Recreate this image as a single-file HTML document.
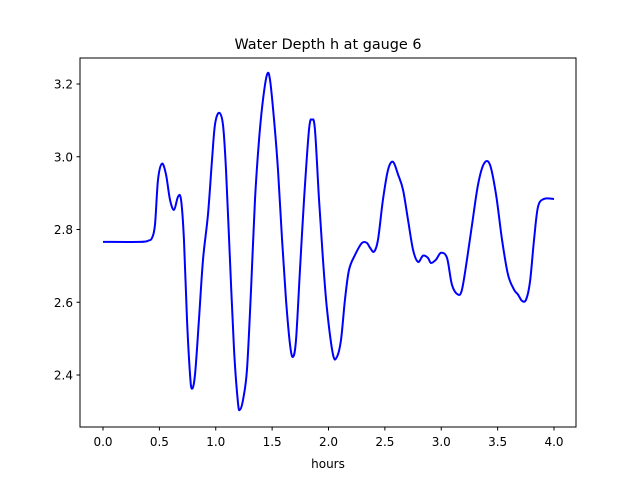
<!DOCTYPE html>
<html><head><meta charset="utf-8"><style>
body{margin:0;background:#fff;}
svg text{font-family:"DejaVu Sans","Liberation Sans",sans-serif;fill:#000;}
</style></head><body>
<svg id="chart" width="640" height="480" viewBox="0 0 640 480">
<rect width="640" height="480" fill="#fff"/>
<text x="328" y="49" font-size="14.4" text-anchor="middle">Water Depth h at gauge 6</text>
<g id="xt"></g>
<g id="yt"></g>
<path id="line" fill="none" stroke="#0000ff" stroke-width="2" stroke-linejoin="round"/>
<rect x="80" y="58" width="496" height="369" fill="none" stroke="#000" stroke-width="1"/>
<text x="328" y="468" font-size="12" text-anchor="middle">hours</text>
</svg>
<script>
const xTicks=[0,0.5,1,1.5,2,2.5,3,3.5,4];
const xTickLabels=["0.0","0.5","1.0","1.5","2.0","2.5","3.0","3.5","4.0"];
const yTicks=[2.4,2.6,2.8,3.0,3.2];
const yTickLabels=["2.4","2.6","2.8","3.0","3.2"];
const hours=[0,0.328,0.399,0.435,0.461,0.488,0.523,0.559,0.594,0.630,0.665,0.692,0.718,0.745,0.772,0.789,0.816,0.851,0.887,0.931,0.967,0.993,1.029,1.064,1.091,1.126,1.162,1.197,1.215,1.242,1.277,1.313,1.348,1.384,1.419,1.455,1.481,1.517,1.552,1.588,1.623,1.659,1.685,1.712,1.747,1.783,1.827,1.854,1.880,1.916,1.951,1.987,2.040,2.075,2.111,2.146,2.182,2.235,2.297,2.341,2.368,2.404,2.439,2.483,2.528,2.572,2.617,2.661,2.705,2.750,2.794,2.838,2.882,2.909,2.953,2.998,3.051,3.095,3.149,3.184,3.228,3.273,3.326,3.379,3.432,3.486,3.539,3.592,3.645,3.681,3.716,3.752,3.787,3.823,3.858,3.911,4.000];
const depth=[2.766,2.766,2.769,2.777,2.813,2.937,2.981,2.951,2.882,2.854,2.890,2.882,2.772,2.552,2.401,2.362,2.401,2.552,2.717,2.841,2.992,3.088,3.121,3.088,2.964,2.717,2.470,2.324,2.305,2.332,2.415,2.635,2.882,3.047,3.157,3.226,3.212,3.102,2.964,2.772,2.607,2.483,2.450,2.497,2.689,2.882,3.074,3.102,3.074,2.882,2.717,2.580,2.456,2.450,2.497,2.607,2.689,2.730,2.763,2.763,2.750,2.739,2.772,2.882,2.964,2.986,2.951,2.909,2.827,2.744,2.711,2.728,2.722,2.708,2.717,2.736,2.722,2.648,2.621,2.635,2.717,2.813,2.923,2.981,2.978,2.896,2.772,2.676,2.635,2.621,2.604,2.607,2.656,2.772,2.862,2.884,2.884];
const NS="http://www.w3.org/2000/svg";
const X=v=>103+v*112.75;
const Y=v=>84+(3.2-v)*363.75;
const xt=document.getElementById('xt'),yt=document.getElementById('yt');
xTicks.forEach((t,i)=>{
 const l=document.createElementNS(NS,'line');
 
 
 l.setAttribute('x1',X(t));l.setAttribute('x2',X(t));l.setAttribute('y1',427);l.setAttribute('y2',430.5);l.setAttribute('stroke','#000');
 xt.appendChild(l);
 const tx=document.createElementNS(NS,'text');
 
 
 tx.setAttribute('x',X(t));tx.setAttribute('y',446);tx.setAttribute('font-size','12');tx.setAttribute('text-anchor','middle');
 tx.textContent=xTickLabels[i];xt.appendChild(tx);
});
yTicks.forEach((t,i)=>{
 const l=document.createElementNS(NS,'line');
 
 
 l.setAttribute('x1',76.5);l.setAttribute('x2',80);l.setAttribute('y1',Y(t));l.setAttribute('y2',Y(t));l.setAttribute('stroke','#000');
 yt.appendChild(l);
 const tx=document.createElementNS(NS,'text');
 
 
 tx.setAttribute('x',73);tx.setAttribute('y',Y(t)+4.5);tx.setAttribute('font-size','12');tx.setAttribute('text-anchor','end');
 tx.textContent=yTickLabels[i];yt.appendChild(tx);
});
const P=hours.map((h,i)=>[X(h),Y(depth[i])]);
let d='M'+P[0][0]+','+P[0][1];
for(let i=0;i<P.length-1;i++){
 const p0=P[Math.max(0,i-1)],p1=P[i],p2=P[i+1],p3=P[Math.min(P.length-1,i+2)];
 const c1=[p1[0]+(p2[0]-p0[0])/6,p1[1]+(p2[1]-p0[1])/6];
 const c2=[p2[0]-(p3[0]-p1[0])/6,p2[1]-(p3[1]-p1[1])/6];
 d+=' C'+c1[0].toFixed(2)+','+c1[1].toFixed(2)+' '+c2[0].toFixed(2)+','+c2[1].toFixed(2)+' '+p2[0].toFixed(2)+','+p2[1].toFixed(2);
}
document.getElementById('line').setAttribute('d',d);
</script>
</body></html>
